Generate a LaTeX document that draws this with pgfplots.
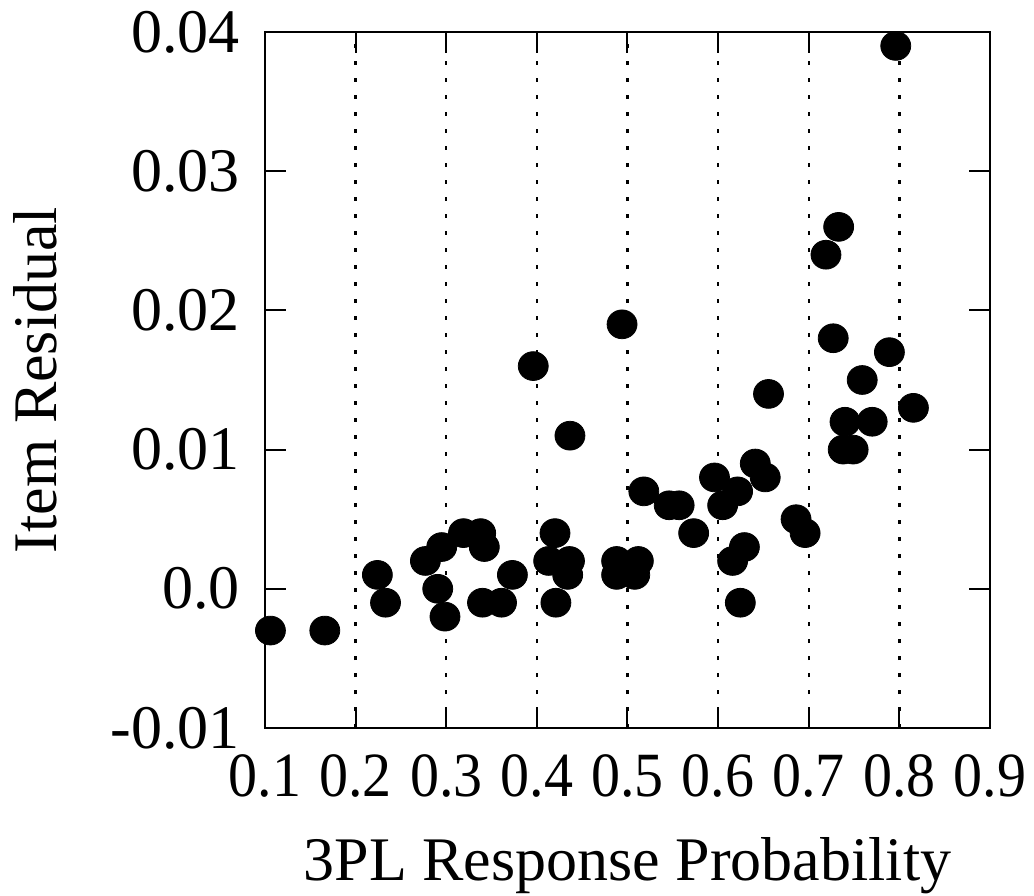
\documentclass[border=0pt]{standalone}
\usepackage{pgfplots}
\pgfplotsset{compat=1.18}
\usepackage{fontspec}
\setmainfont{Liberation Serif}
\newfontfamily\xtickfont{Liberation Serif}[FakeStretch=0.92]
\begin{document}
\begin{tikzpicture}
\begin{axis}[
  scale only axis,
  width=362.5pt, height=348pt,
  xmin=0.1, xmax=0.9, ymin=-0.01, ymax=0.04,
  scaled ticks=false,
  /pgf/number format/assume math mode=true,
  xtick={0.1,0.2,0.3,0.4,0.5,0.6,0.7,0.8,0.9},
  xticklabels={0.1,0.2,0.3,0.4,0.5,0.6,0.7,0.8,0.9},
  ytick={-0.01,0,0.01,0.02,0.03,0.04},
  yticklabels={-0.01,0.0,0.01,0.02,0.03,0.04},
  tick align=inside,
  major tick length=10.5pt,
  tick style={line width=1pt, black},
  axis line style={line width=1.2pt},
  xmajorgrids,
  grid style={black, line width=1.2pt, dash pattern=on 2pt off 6.5pt},
  font=\rmfamily\fontsize{31}{37}\selectfont,
  xticklabel style={font=\xtickfont\fontsize{31.5}{37}\selectfont, anchor=north, inner sep=0pt, yshift=-13pt},
  yticklabel style={font=\rmfamily\fontsize{31}{37}\selectfont, anchor=east, inner sep=0pt, xshift=-12.5pt},
  xlabel style={font=\rmfamily\fontsize{31}{37}\selectfont, at={(axis description cs:0.5,-0.2184)}, anchor=base, inner sep=0pt},
  ylabel style={font=\rmfamily\fontsize{31}{37}\selectfont, at={(axis description cs:-0.2869,0.5)}, anchor=base, inner sep=0pt},
  xlabel={3PL Response Probability},
  ylabel={Item Residual},
  clip=false,
]
\addplot[only marks, mark=*, mark size=7.2pt, mark options={fill=black, draw=black, xscale=1.04}] coordinates {
(0.106,-0.003)
(0.166,-0.003)
(0.224,0.001)
(0.233,-0.001)
(0.277,0.002)
(0.295,0.003)
(0.2906,0.000)
(0.2986,-0.002)
(0.319,0.004)
(0.338,0.004)
(0.342,0.003)
(0.340,-0.001)
(0.361,-0.001)
(0.373,0.001)
(0.396,0.016)
(0.413,0.002)
(0.420,0.004)
(0.421,-0.001)
(0.434,0.001)
(0.436,0.002)
(0.4365,0.011)
(0.488,0.002)
(0.488,0.001)
(0.494,0.019)
(0.508,0.001)
(0.512,0.002)
(0.518,0.007)
(0.546,0.006)
(0.557,0.006)
(0.573,0.004)
(0.596,0.008)
(0.605,0.006)
(0.616,0.002)
(0.6215,0.007)
(0.629,0.003)
(0.6245,-0.001)
(0.641,0.009)
(0.652,0.008)
(0.6556,0.014)
(0.686,0.005)
(0.696,0.004)
(0.719,0.024)
(0.727,0.018)
(0.733,0.026)
(0.738,0.010)
(0.740,0.012)
(0.749,0.010)
(0.759,0.015)
(0.770,0.012)
(0.789,0.017)
(0.796,0.039)
(0.8155,0.013)
};
\end{axis}
\pgfresetboundingbox
\path ([shift={(-132.5pt,-83.5pt)}]current axis.south west) rectangle ([shift={(22pt,16pt)}]current axis.north east);
\end{tikzpicture}
\end{document}
